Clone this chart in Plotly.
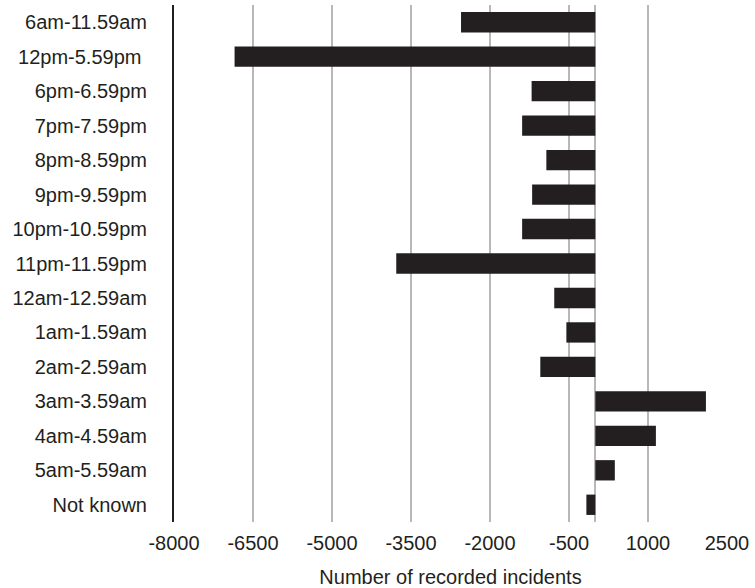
import plotly.graph_objects as go

# Time-of-day bands (top to bottom) and change in recorded incidents
periods = [
    "6am-11.59am", "12pm-5.59pm\u00a0", "6pm-6.59pm", "7pm-7.59pm", "8pm-8.59pm",
    "9pm-9.59pm", "10pm-10.59pm", "11pm-11.59pm", "12am-12.59am", "1am-1.59am",
    "2am-2.59am", "3am-3.59am", "4am-4.59am", "5am-5.59am", "Not known",
]
incidents = [
    -2550, -6850, -1210, -1390, -930,
    -1200, -1390, -3780, -780, -550,
    -1045, 2100, 1150, 370, -170,
]
x_ticks = [-8000, -6500, -5000, -3500, -2000, -500, 1000, 2500]

ink = "#231f20"
grid = "#b8b8b8"
font = dict(family="Liberation Sans, Arial, Helvetica, sans-serif", size=20, color=ink)

fig = go.Figure(
    go.Bar(
        x=incidents,
        y=periods,
        orientation="h",
        marker=dict(color=ink, line=dict(width=0)),
    )
)

fig.update_layout(
    width=755,
    height=588,
    margin=dict(l=174, r=28, t=5, b=66),
    paper_bgcolor="white",
    plot_bgcolor="white",
    font=font,
    bargap=0.41,
    showlegend=False,
)

fig.update_xaxes(
    range=[-8000, 2500],
    tickvals=x_ticks,
    ticktext=[str(v) for v in x_ticks],
    showgrid=True,
    gridcolor=grid,
    gridwidth=2,
    zeroline=True,
    zerolinecolor=grid,
    zerolinewidth=2,
    showline=False,
    ticks="",
    ticklabelstandoff=7,
    automargin=False,
    title=dict(text="Number of recorded incidents", standoff=17, font=font),
)

fig.update_yaxes(
    categoryorder="array",
    categoryarray=periods,
    autorange="reversed",
    showgrid=False,
    zeroline=False,
    showline=True,
    linecolor=ink,
    linewidth=2,
    ticks="",
    ticklabelstandoff=21,
)

fig.write_html("out.html")
